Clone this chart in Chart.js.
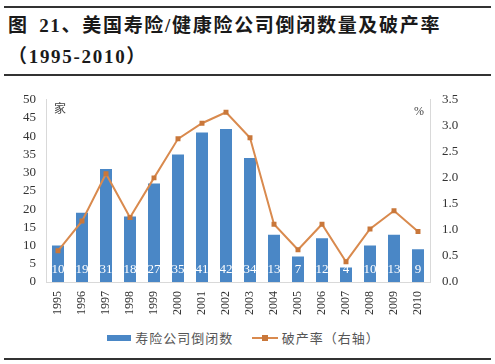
<!DOCTYPE html>
<html>
<head>
<meta charset="utf-8">
<script src="https://cdn.jsdelivr.net/npm/chart.js@4/dist/chart.umd.min.js"></script>
<style>
  html, body { margin: 0; padding: 0; background: #fff; }
  body { width: 495px; height: 364px; position: relative; overflow: hidden;
         font-family: "Liberation Serif", "Noto Sans CJK SC", serif; color: #222; }
  .rule { position: absolute; left: 4px; width: 487px; height: 2px; background: #333; }
  .title { position: absolute; left: 8px; font-weight: bold; font-size: 19px; letter-spacing: 1.7px;
           white-space: nowrap; color: #1a1a1a; }
  #wrap { position: absolute; left: 0; top: 80px; width: 495px; height: 240px; }
  .legend { position: absolute; top: 328px; left: -4px; width: 495px; text-align: center;
            font-size: 13px; color: #555; white-space: nowrap; letter-spacing: 1px; }
  .legend span { display: inline-block; vertical-align: middle; }
  .sw-bar { width: 24px; height: 6px; background: #4a87c6; margin-right: 4px; }
  .sw-line { width: 26px; height: 2px; background: #d98a4e; position: relative; margin-right: 4px; margin-left: 14px; }
  .sw-line::after { content: ""; position: absolute; left: 10px; top: -2px; width: 6px; height: 6px; background: #c9773a; }
</style>
</head>
<body>
<div class="rule" style="top:6px"></div>
<div class="title" style="top:10px">图 <span style="margin-left:4px">21</span>、美国寿险/健康险公司倒闭数量及破产率</div>
<div class="title" style="top:41px">（1995-2010）</div>
<div class="rule" style="top:74px"></div>
<div id="wrap"><canvas id="chart" width="495" height="240"></canvas></div>
<div class="legend">
  <span class="sw-bar"></span><span>寿险公司倒闭数</span>
  <span class="sw-line"></span><span>破产率（右轴）</span>
</div>
<div class="rule" style="top:358px"></div>

<script>
const years    = ["1995","1996","1997","1998","1999","2000","2001","2002","2003","2004","2005","2006","2007","2008","2009","2010"];
const failures = [10, 19, 31, 18, 27, 35, 41, 42, 34, 13, 7, 12, 4, 10, 13, 9];
const rates    = [0.6, 1.17, 2.08, 1.24, 2.0, 2.75, 3.05, 3.26, 2.77, 1.11, 0.62, 1.11, 0.39, 1.02, 1.37, 0.97];

const SERIF = "'Liberation Serif', 'Noto Sans CJK SC', serif";
const AXIS  = "#d9d9d9";

// ── white count labels at the foot of each bar ──────────────
const barLabels = {
  id: "barLabels",
  afterDatasetsDraw(chart) {
    const { ctx } = chart;
    const meta = chart.getDatasetMeta(1);
    ctx.save();
    ctx.fillStyle = "#ffffff";
    ctx.font = "13px " + SERIF;
    ctx.textAlign = "center";
    ctx.textBaseline = "middle";
    meta.data.forEach((bar, i) => {
      ctx.fillText(String(failures[i]), bar.x, chart.chartArea.bottom - 12);
    });
    ctx.restore();
  },
};

// ── unit marks in the plot corners ──────────────────────────
const unitMarks = {
  id: "unitMarks",
  afterDraw(chart) {
    const { ctx, chartArea: a } = chart;
    ctx.save();
    ctx.fillStyle = "#444";
    ctx.font = "12px " + SERIF;
    ctx.textBaseline = "middle";
    ctx.textAlign = "left";
    ctx.fillText("家", a.left + 8, a.top + 10);
    ctx.textAlign = "right";
    ctx.fillText("%", a.right - 6, a.top + 12);
    ctx.restore();
  },
};

new Chart(document.getElementById("chart").getContext("2d"), {
  data: {
    labels: years,
    datasets: [
      {
        type: "line",
        label: "破产率（右轴）",
        data: rates,
        yAxisID: "y1",
        borderColor: "#d98a4e",
        borderWidth: 2,
        pointStyle: "rect",
        pointRadius: 3.5,
        pointBackgroundColor: "#c9773a",
        pointBorderWidth: 0,
        tension: 0,
        order: 0,
      },
      {
        type: "bar",
        label: "寿险公司倒闭数",
        data: failures,
        yAxisID: "y",
        backgroundColor: "#4a87c6",
        categoryPercentage: 1,
        barPercentage: 0.5,
        order: 1,
      },
    ],
  },
  options: {
    responsive: false,
    animation: false,
    layout: { padding: { top: 9, left: 0, right: 0, bottom: 0 } },
    plugins: { legend: { display: false }, tooltip: { enabled: false } },
    scales: {
      x: {
        grid: { display: false, drawTicks: false },
        border: { color: AXIS },
        ticks: { color: "#333", font: { family: SERIF, size: 12 }, minRotation: 90, maxRotation: 90,
                 padding: 9, autoSkip: false },
        afterFit(s) { s.height = 38; },
      },
      y: {
        position: "left",
        min: 0, max: 50,
        grid: { display: false, drawTicks: false },
        border: { color: AXIS },
        ticks: { stepSize: 5, autoSkip: false, color: "#333", font: { family: SERIF, size: 13 }, padding: 10 },
        afterFit(s) { s.width = 46; },
      },
      y1: {
        position: "right",
        min: 0, max: 3.5,
        grid: { display: false, drawTicks: false },
        border: { color: AXIS },
        ticks: { stepSize: 0.5, autoSkip: false, color: "#333", font: { family: SERIF, size: 13 }, padding: 12,
                 callback: v => Number(v).toFixed(1) },
        afterFit(s) { s.width = 65; },
      },
    },
  },
  plugins: [barLabels, unitMarks],
});
</script>
</body>
</html>
